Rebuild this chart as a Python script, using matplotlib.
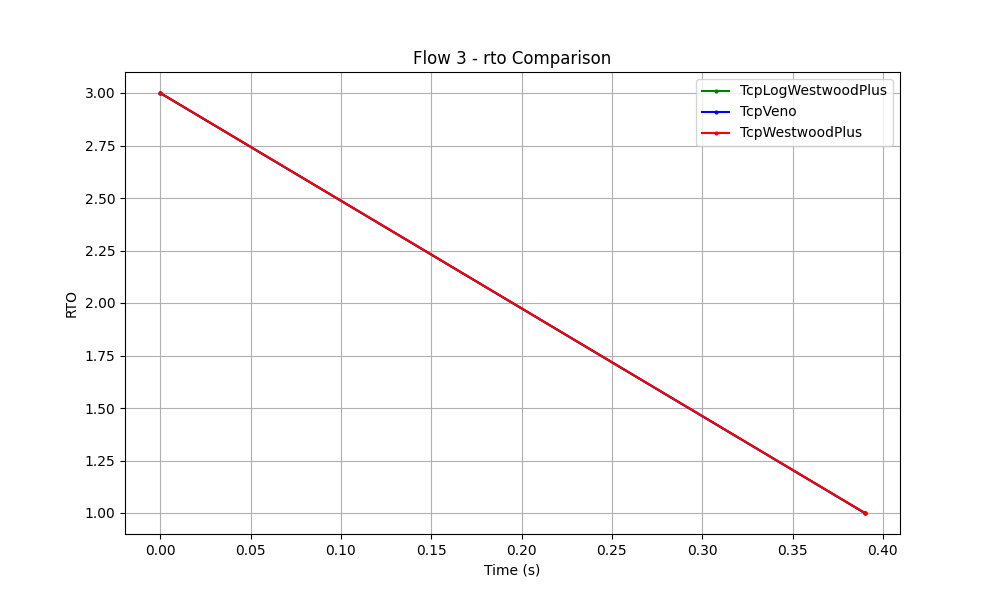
import numpy as np
import matplotlib
matplotlib.use('Agg')
import matplotlib.pyplot as plt

algorithms = ['TcpLogWestwoodPlus', 'TcpVeno', 'TcpWestwoodPlus']
colors = ['green', 'blue', 'red']
time_s = {
    'TcpLogWestwoodPlus': [0.0, 0.390],
    'TcpVeno': [0.0, 0.390],
    'TcpWestwoodPlus': [0.0, 0.390],
}
rto = {
    'TcpLogWestwoodPlus': [3.0, 1.0],
    'TcpVeno': [3.0, 1.0],
    'TcpWestwoodPlus': [3.0, 1.0],
}

fig, ax = plt.subplots(figsize=(10, 6))
for algo, color in zip(algorithms, colors):
    ax.plot(time_s[algo], rto[algo], color=color, marker='o', markersize=2, label=algo)
ax.set_xlabel('Time (s)')
ax.set_ylabel('RTO')
ax.set_title('Flow 3 - rto Comparison')
ax.grid(True)
ax.legend()
plt.savefig('out.png', dpi=100)
plt.close()
